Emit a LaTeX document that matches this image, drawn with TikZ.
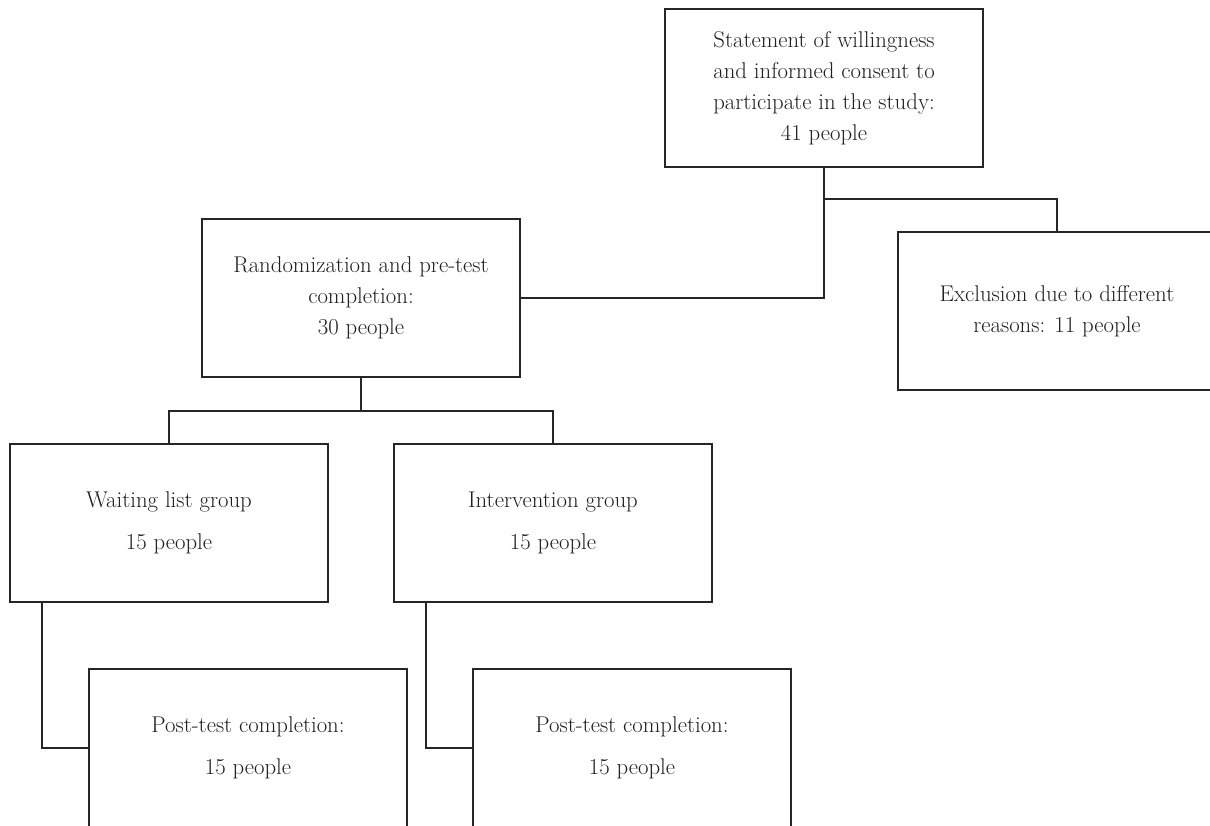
\documentclass[tikz,border=0pt]{standalone}
\usepackage{tikz}

\begin{document}
\begin{tikzpicture}[x=0.025cm, y=-0.025cm,
	every node/.style={font=\fontsize{16.2}{22}\selectfont, text=black!88},
	flowbox/.style={draw=black!85, line width=1pt, minimum width=7.95cm, minimum height=3.95cm, align=center, inner sep=0pt},
	link/.style={draw=black!85, line width=1pt}]
	\useasboundingbox (0,0) rectangle (1210,825);
	\clip (0,0) rectangle (1210,825);
	% boxes
	\node[flowbox] (consent) at (824,88) {Statement of willingness\\and informed consent to\\participate in the study:\\41 people};
	\node[flowbox] (rand) at (361,298) {Randomization and pre-test\\completion:\\30 people};
	\node[flowbox] (excl) at (1057,311) {Exclusion due to different\\reasons: 11 people};
	\node[flowbox] (wait) at (169,523) {Waiting list group\\[8pt]15 people};
	\node[flowbox] (interv) at (553,523) {Intervention group\\[8pt]15 people};
	\node[flowbox] (postA) at (248,748) {Post-test completion:\\[8pt]15 people};
	\node[flowbox] (postB) at (632,748) {Post-test completion:\\[8pt]15 people};
	% connectors
	\coordinate (split) at (824,199);
	\coordinate (fork) at (361,411);
	\draw[link] (consent.south) |- (rand.east);
	\draw[link] (split) -| (excl.north);
	\draw[link] (rand.south) -- (fork);
	\draw[link] (wait.north) |- (fork) -| (interv.north);
	\draw[link] ([xshift=0.82cm]wait.south west) |- (postA.west);
	\draw[link] ([xshift=0.82cm]interv.south west) |- (postB.west);
\end{tikzpicture}
\end{document}
